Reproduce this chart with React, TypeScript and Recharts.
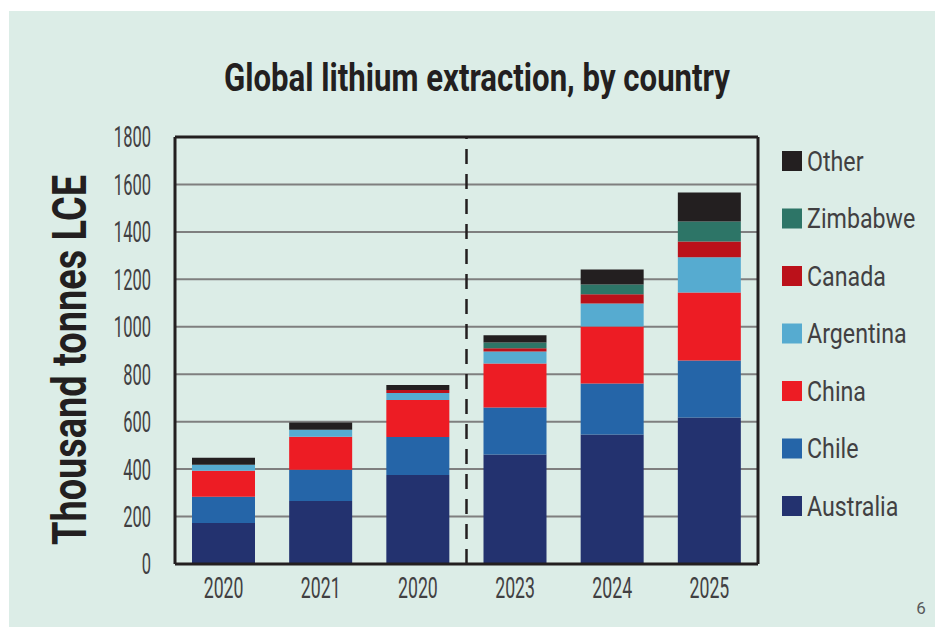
import { BarChart, Bar, XAxis, YAxis, CartesianGrid, ReferenceLine } from 'recharts';

const categories = ['2020', '2021', '2022', '2023', '2024', '2025'];
const tickLabels = ['2020', '2021', '2020', '2023', '2024', '2025'];
const yTicks = [0, 200, 400, 600, 800, 1000, 1200, 1400, 1600, 1800];

const australia = [173, 266, 375, 462, 546, 618];
const chile = [110, 131, 160, 198, 215, 240];
const china = [110, 139, 156, 185, 240, 287];
const argentina = [25, 30, 30, 51, 97, 148];
const canada = [0, 0, 13, 14, 39, 67];
const zimbabwe = [0, 0, 0, 24, 41, 84];
const other = [30, 30, 21, 30, 63, 122];

const SERIES = [
  { key: 'australia', name: 'Australia', color: '#23326f', values: australia },
  { key: 'chile', name: 'Chile', color: '#2565a8', values: chile },
  { key: 'china', name: 'China', color: '#ed1c24', values: china },
  { key: 'argentina', name: 'Argentina', color: '#56abd0', values: argentina },
  { key: 'canada', name: 'Canada', color: '#bb111a', values: canada },
  { key: 'zimbabwe', name: 'Zimbabwe', color: '#2d7567', values: zimbabwe },
  { key: 'other', name: 'Other', color: '#231f20', values: other },
];

const data = categories.map((year, i) => {
  const row: Record<string, string | number> = { year };
  SERIES.forEach((s) => {
    row[s.key] = s.values[i];
  });
  return row;
});

const TEXT = '#414042';
const DARK = '#231f20';
const BG = '#dcede7';

function YTick({ x, y, payload }: any) {
  return (
    <g transform={`translate(${x},${y})`}>
      <text transform="scale(0.57,1)" textAnchor="end" dy="0.36em" fontSize={29} fontFamily="Roboto" fill={TEXT}>
        {payload.value}
      </text>
    </g>
  );
}

function XTick({ x, y, index }: any) {
  return (
    <g transform={`translate(${x},${y})`}>
      <text transform="scale(0.59,1)" textAnchor="middle" y={26} fontSize={30} fontFamily="Roboto" fill={TEXT}>
        {tickLabels[index]}
      </text>
    </g>
  );
}

export default function App() {
  const legendItems = [...SERIES].reverse();
  return (
    <div style={{ position: 'absolute', left: 0, top: 0, width: 935, height: 627, background: '#fff' }}>
      <div style={{ position: 'absolute', left: 9, top: 11, right: 0, bottom: 0, background: BG }} />
      <div style={{ position: 'absolute', left: 0, top: 0 }}>
        <BarChart width={935} height={627} data={data} margin={{ top: 137, right: 177, bottom: 33, left: 115 }} barSize={63}>
          <CartesianGrid vertical={false} stroke="#7f7f7f" strokeWidth={2} />
          <XAxis
            dataKey="year"
            height={30}
            tickLine={false}
            axisLine={{ stroke: DARK, strokeWidth: 3 }}
            tick={<XTick />}
            interval={0}
          />
          <YAxis
            width={60}
            domain={[0, 1800]}
            ticks={yTicks}
            tickLine={false}
            tickMargin={18}
            axisLine={{ stroke: DARK, strokeWidth: 3 }}
            tick={<YTick />}
          />
          {SERIES.map((s) => (
            <Bar key={s.key} dataKey={s.key} name={s.name} stackId="a" fill={s.color} isAnimationActive={false} />
          ))}
          <ReferenceLine y={1800} stroke={DARK} strokeWidth={3} />
          <ReferenceLine x="2025" position="end" stroke={DARK} strokeWidth={3} />
          <ReferenceLine x="2023" position="start" stroke={DARK} strokeWidth={2.5} strokeDasharray="15 10" />
        </BarChart>
      </div>
      <svg width={935} height={627} style={{ position: 'absolute', left: 0, top: 0, pointerEvents: 'none' }}>
        <text
          x={477}
          y={91}
          textAnchor="middle"
          fontSize={39}
          fontWeight="bold"
          fontFamily="Roboto"
          fill={DARK}
          textLength={506}
          lengthAdjust="spacingAndGlyphs"
        >
          Global lithium extraction, by country
        </text>
        <text
          transform="translate(86,360) rotate(-90)"
          textAnchor="middle"
          fontSize={49}
          fontWeight="bold"
          fontFamily="Roboto"
          fill={DARK}
          textLength={370}
          lengthAdjust="spacingAndGlyphs"
        >
          Thousand tonnes LCE
        </text>
        {legendItems.map((s, i) => {
          const cy = 161 + i * 57.5;
          return (
            <g key={s.key}>
              <rect x={782} y={cy - 10} width={20} height={20} fill={s.color} />
              <g transform={`translate(807,${cy})`}>
                <text transform="scale(0.86,1)" dy="0.36em" fontSize={27} fontFamily="Roboto" fill={TEXT}>
                  {s.name}
                </text>
              </g>
            </g>
          );
        })}
        <text x={921} y={614} textAnchor="middle" fontSize={17} fontFamily="Roboto" fill="#58595b">
          6
        </text>
      </svg>
    </div>
  );
}
